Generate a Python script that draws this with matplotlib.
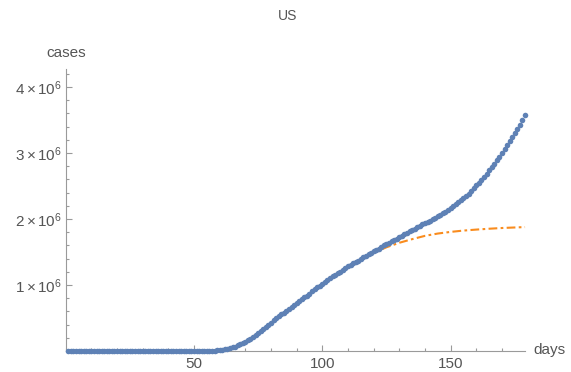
import numpy as np
import matplotlib
matplotlib.use("Agg")
import matplotlib.pyplot as plt
from matplotlib.ticker import MultipleLocator, FixedLocator

plt.rcParams['font.family'] = ['Liberation Sans', 'DejaVu Sans']
plt.rcParams['mathtext.fontset'] = 'custom'
plt.rcParams['mathtext.rm'] = 'Liberation Sans'
plt.rcParams['mathtext.it'] = 'Liberation Sans'

title = "US"
x_label = "days"
y_label = "cases"

# cumulative cases, one value per day (days 1..179)
cases = [
    1, 1,
    1, 1, 2, 2, 5, 5, 5, 6, 6, 8,
    8, 9, 11, 11, 12, 12, 12, 12, 12, 12,
    13, 13, 14, 14, 14, 14, 14, 14, 14, 14,
    35, 35, 35, 53, 53, 59, 60, 62, 68,
    75, 100, 124, 158, 221, 319, 435, 541, 704, 994,
    1301, 1630, 2183, 2770, 3613, 4596, 6344, 9197, 13779, 19100,
    25489, 33276, 43847, 53740, 65778, 83836, 101657, 121465, 140909, 161831, 188172,
    213242, 243622, 275367, 308650, 336802, 366317, 397121, 428654, 462780, 496535,
    526396, 555313, 580619, 607670, 636350, 667592, 699706, 732197, 758809, 784326,
    811865, 840351, 869170, 905358, 938154, 965785, 988197, 1012582, 1039909, 1069424,
    1103461, 1132539, 1158040, 1180375, 1204351, 1228603, 1257023, 1283929, 1309550, 1329260,
    1347881, 1369376, 1390406, 1417774, 1442824, 1467820, 1486757, 1508308, 1528568, 1551853,
    1577147, 1600937, 1622612, 1643246, 1662302, 1681212, 1699933, 1721750, 1746019, 1770165, 1790191,
    1811277, 1831821, 1851520, 1872660, 1897380, 1920061, 1938823, 1956421, 1973797, 1994283,
    2017428, 2042405, 2066401, 2085486, 2104346, 2137731, 2163290, 2191052, 2222579, 2255119,
    2280912, 2312302, 2347491, 2381538, 2422312, 2467554, 2510259, 2549294, 2590582, 2636538,
    2687588, 2742049, 2794153, 2839436, 2888730, 2936077, 2996098, 3054699, 3117946, 3184573,
    3245925, 3304942, 3363056, 3431574, 3499398, 3576157,
]
days = list(range(1, len(cases) + 1))

# fitted model curve, sampled values
fit_days = [1, 10, 20, 30, 40, 50, 55, 60, 62, 65, 68, 70, 75, 80, 85, 90, 95, 100,
            105, 110, 115, 120, 125, 130, 135, 140, 145, 150, 155, 160, 165, 170, 175, 179]
fit_cases = [3000, 3000, 3000, 3000, 3000, 4000, 6000, 15000, 25000, 52000, 105000, 140000,
             272000, 426000, 578000, 728000, 866000, 1008000, 1150000, 1275000, 1380000,
             1487000, 1572000, 1640000, 1695000, 1745000, 1780000, 1805000, 1825000,
             1840000, 1853000, 1864000, 1872000, 1878000]

y_major = [1e6, 2e6, 3e6, 4e6]
y_major_labels = [r'$1\times10^{6}$', r'$2\times10^{6}$', r'$3\times10^{6}$', r'$4\times10^{6}$']
x_major = [50, 100, 150]

fig = plt.figure(figsize=(5.71, 3.72), dpi=100)
ax = fig.add_axes([0.1151, 0.0565, 0.8044, 0.7573])

ax.plot(fit_days, fit_cases, color='#F98C1E', lw=1.5,
        dashes=(4.2, 1.6, 1.3, 1.6), zorder=2, clip_on=False)
ax.plot(days, cases, 'o', color='#5E81B5', ms=4.0, mew=0, zorder=3, clip_on=False,
        snap=False)

ax.set_xlim(0, 179)
ax.set_ylim(0, 4.27e6)

for s in ['top', 'right']:
    ax.spines[s].set_visible(False)
for s in ['left', 'bottom']:
    ax.spines[s].set_color('#9a9a9a')
    ax.spines[s].set_linewidth(0.8)

ax.xaxis.set_major_locator(FixedLocator(x_major))
ax.xaxis.set_minor_locator(MultipleLocator(10))
ax.yaxis.set_major_locator(FixedLocator(y_major))
ax.yaxis.set_minor_locator(MultipleLocator(2e5))
ax.set_yticklabels(y_major_labels)

ax.tick_params(which='both', direction='in', colors='#9a9a9a', labelcolor='#555555',
               labelsize=11, width=0.8)
ax.tick_params(which='major', length=4)
ax.tick_params(which='minor', length=2.5)
ax.tick_params(axis='x', pad=4)
ax.tick_params(axis='y', pad=3)

fig.text(288 / 571, 1 - 16 / 372, title, ha='center', va='center', fontsize=10, color='#555555')
fig.text(66 / 571, 1 - 53 / 372, y_label, ha='center', va='center', fontsize=11, color='#555555')
fig.text(533 / 571, 1 - 350 / 372, x_label, ha='left', va='center', fontsize=11, color='#555555')

fig.savefig('out.png', dpi=100)
